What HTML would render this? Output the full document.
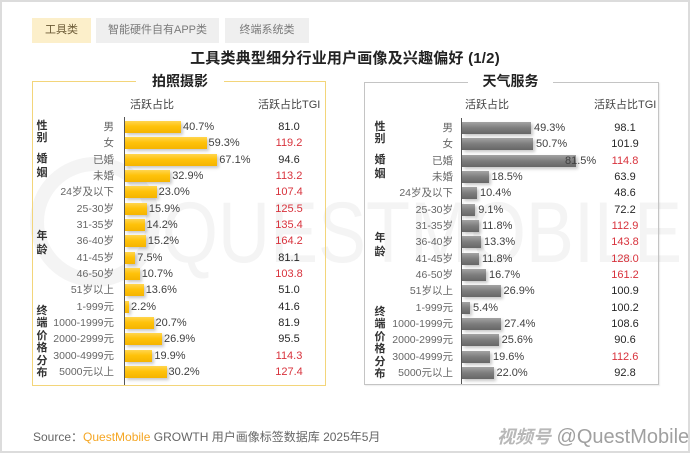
<!DOCTYPE html>
<html><head><meta charset="utf-8">
<style>
*{margin:0;padding:0;box-sizing:border-box}
html,body{width:690px;height:453px;background:#fff;overflow:hidden}
body{position:relative;font-family:"Liberation Sans","Noto Sans CJK SC",sans-serif;color:#333}
.frame{position:absolute;left:0;top:0;width:690px;height:453px;border:2px solid #dcdcdc;border-right-width:2px}
.tab{position:absolute;top:18px;height:25px;line-height:25px;font-size:11px;text-align:center;color:#7a7a7a}
.title{position:absolute;left:0;width:690px;top:47px;text-align:center;font-size:15px;font-weight:bold;color:#222;letter-spacing:0.2px}
.panel{position:absolute;border:1px solid #f3d57a}
.ptitle{position:absolute;top:72px;height:18px;line-height:18px;font-size:14px;font-weight:bold;color:#222;background:#fff;text-align:center}
.hd{position:absolute;top:96px;font-size:11px;color:#444;white-space:nowrap}
.axis{position:absolute;width:1px;background:#555}
.grp{position:absolute;font-size:11px;font-weight:bold;color:#333;width:14px;text-align:center;line-height:12.4px}
.rows{position:absolute;left:0;top:0;width:345px;height:453px}
.r{position:absolute;left:0;width:345px;height:16px;line-height:16px}
.c{position:absolute;font-size:10.5px;color:#666;white-space:nowrap;text-align:right}
.bw{position:absolute;top:0;height:16px;display:flex;align-items:center;white-space:nowrap}
.bw i{display:block;height:12px}
.L .bw i{background:linear-gradient(to bottom,#ffd54f 0%,#ffc20a 45%,#f5b400 100%);box-shadow:2px 2px 3px rgba(0,0,0,0.22)}
.R .bw i{background:linear-gradient(to bottom,#a3a3a3 0%,#7d7d7d 50%,#666 100%);box-shadow:2px 2px 3px rgba(0,0,0,0.22)}
.bw b{font-weight:normal;font-size:11px;color:#404040;margin-left:2px}
.R .bw b{margin-left:3px}
.t{position:absolute;width:40px;text-align:center;font-size:11px;color:#262626}
.red{color:#d8323c}
.L .c{right:231px}
.L .bw{left:125px}
.L .t{left:269px}
.R{left:345px}
.R .c{right:237px}
.R .bw{left:117px}
.R .t{left:260px}
.foot{position:absolute;left:33px;top:428px;font-size:12px;color:#666;white-space:nowrap}
.foot span{color:#f5a623}
.wm{position:absolute;left:497px;top:423px;font-size:20px;color:#a0a0a0;white-space:nowrap;text-shadow:0 0 1px #fff}
.wm em{font-style:italic;font-weight:bold;font-size:18px;color:#b8b8b8}
</style></head><body>
<svg style="position:absolute;left:0;top:0" width="690" height="453">
<circle cx="95" cy="222" r="58" fill="none" stroke="#f4f4f4" stroke-width="14"/>
<text x="162" y="262" font-family="Liberation Sans, sans-serif" font-size="86" fill="#f4f4f4" textLength="520" lengthAdjust="spacingAndGlyphs">QUESTMOBILE</text>
</svg>
<div class="frame"></div>

<div class="tab" style="left:32px;width:59px;background:#fcefca;color:#6b5a35">工具类</div>
<div class="tab" style="left:96px;width:123px;background:#efefef">智能硬件自有APP类</div>
<div class="tab" style="left:225px;width:84px;background:#efefef">终端系统类</div>

<div class="title">工具类典型细分行业用户画像及兴趣偏好 (1/2)</div>

<div class="panel" style="left:32px;top:81px;width:294px;height:305px;border-color:#f3d57a"></div>
<div class="ptitle" style="left:136px;width:88px">拍照摄影</div>
<div class="panel" style="left:364px;top:82px;width:295px;height:303px;border-color:#c4c4c4;box-shadow:1px 1px 1px rgba(0,0,0,0.08)"></div>
<div class="ptitle" style="left:468px;width:85px">天气服务</div>

<div class="hd" style="left:130px">活跃占比</div>
<div class="hd" style="left:258px">活跃占比TGI</div>
<div class="hd" style="left:465px">活跃占比</div>
<div class="hd" style="left:594px">活跃占比TGI</div>

<div class="axis" style="left:124px;top:117px;height:268px"></div>
<div class="axis" style="left:461px;top:118px;height:266px"></div>

<div class="grp" style="left:35px;top:120px">性<br>别</div>
<div class="grp" style="left:35px;top:152px;line-height:14px">婚<br>姻</div>
<div class="grp" style="left:35px;top:229px;line-height:14px">年<br>龄</div>
<div class="grp" style="left:35px;top:305px">终<br>端<br>价<br>格<br>分<br>布</div>

<div class="grp" style="left:373px;top:121px">性<br>别</div>
<div class="grp" style="left:373px;top:153px;line-height:14px">婚<br>姻</div>
<div class="grp" style="left:373px;top:231px;line-height:14px">年<br>龄</div>
<div class="grp" style="left:373px;top:306px">终<br>端<br>价<br>格<br>分<br>布</div>

<div class="rows L">
<div class="r" style="top:119px"><span class="c">男</span><div class="bw"><i style="width:56px"></i><b>40.7%</b></div><span class="t">81.0</span></div>
<div class="r" style="top:135.3px"><span class="c">女</span><div class="bw"><i style="width:81.5px"></i><b>59.3%</b></div><span class="t red">119.2</span></div>
<div class="r" style="top:151.7px"><span class="c">已婚</span><div class="bw"><i style="width:92.3px"></i><b>67.1%</b></div><span class="t">94.6</span></div>
<div class="r" style="top:168px"><span class="c">未婚</span><div class="bw"><i style="width:45.2px"></i><b>32.9%</b></div><span class="t red">113.2</span></div>
<div class="r" style="top:184.3px"><span class="c">24岁及以下</span><div class="bw"><i style="width:31.6px"></i><b>23.0%</b></div><span class="t red">107.4</span></div>
<div class="r" style="top:200.7px"><span class="c">25-30岁</span><div class="bw"><i style="width:21.9px"></i><b>15.9%</b></div><span class="t red">125.5</span></div>
<div class="r" style="top:217px"><span class="c">31-35岁</span><div class="bw"><i style="width:19.5px"></i><b>14.2%</b></div><span class="t red">135.4</span></div>
<div class="r" style="top:233.3px"><span class="c">36-40岁</span><div class="bw"><i style="width:20.9px"></i><b>15.2%</b></div><span class="t red">164.2</span></div>
<div class="r" style="top:249.6px"><span class="c">41-45岁</span><div class="bw"><i style="width:10.3px"></i><b>7.5%</b></div><span class="t">81.1</span></div>
<div class="r" style="top:266px"><span class="c">46-50岁</span><div class="bw"><i style="width:14.7px"></i><b>10.7%</b></div><span class="t red">103.8</span></div>
<div class="r" style="top:282.3px"><span class="c">51岁以上</span><div class="bw"><i style="width:18.7px"></i><b>13.6%</b></div><span class="t">51.0</span></div>
<div class="r" style="top:298.6px"><span class="c">1-999元</span><div class="bw"><i style="width:4px"></i><b>2.2%</b></div><span class="t">41.6</span></div>
<div class="r" style="top:315px"><span class="c">1000-1999元</span><div class="bw"><i style="width:28.5px"></i><b>20.7%</b></div><span class="t">81.9</span></div>
<div class="r" style="top:331.3px"><span class="c">2000-2999元</span><div class="bw"><i style="width:37px"></i><b>26.9%</b></div><span class="t">95.5</span></div>
<div class="r" style="top:347.6px"><span class="c">3000-4999元</span><div class="bw"><i style="width:27.4px"></i><b>19.9%</b></div><span class="t red">114.3</span></div>
<div class="r" style="top:364px"><span class="c">5000元以上</span><div class="bw"><i style="width:41.5px"></i><b>30.2%</b></div><span class="t red">127.4</span></div>
</div>

<div class="rows R">
<div class="r" style="top:120px"><span class="c">男</span><div class="bw"><i style="width:69px"></i><b>49.3%</b></div><span class="t">98.1</span></div>
<div class="r" style="top:136.3px"><span class="c">女</span><div class="bw"><i style="width:71px"></i><b>50.7%</b></div><span class="t">101.9</span></div>
<div class="r" style="top:152.7px"><span class="c">已婚</span><div class="bw"><i style="width:114px"></i><b style="margin-left:-11px">81.5%</b></div><span class="t red">114.8</span></div>
<div class="r" style="top:169px"><span class="c">未婚</span><div class="bw"><i style="width:26.5px"></i><b>18.5%</b></div><span class="t">63.9</span></div>
<div class="r" style="top:185.3px"><span class="c">24岁及以下</span><div class="bw"><i style="width:15px"></i><b>10.4%</b></div><span class="t">48.6</span></div>
<div class="r" style="top:201.7px"><span class="c">25-30岁</span><div class="bw"><i style="width:13.2px"></i><b>9.1%</b></div><span class="t">72.2</span></div>
<div class="r" style="top:218px"><span class="c">31-35岁</span><div class="bw"><i style="width:17px"></i><b>11.8%</b></div><span class="t red">112.9</span></div>
<div class="r" style="top:234.3px"><span class="c">36-40岁</span><div class="bw"><i style="width:19px"></i><b>13.3%</b></div><span class="t red">143.8</span></div>
<div class="r" style="top:250.6px"><span class="c">41-45岁</span><div class="bw"><i style="width:17px"></i><b>11.8%</b></div><span class="t red">128.0</span></div>
<div class="r" style="top:267px"><span class="c">46-50岁</span><div class="bw"><i style="width:24px"></i><b>16.7%</b></div><span class="t red">161.2</span></div>
<div class="r" style="top:283.3px"><span class="c">51岁以上</span><div class="bw"><i style="width:38.5px"></i><b>26.9%</b></div><span class="t">100.9</span></div>
<div class="r" style="top:299.6px"><span class="c">1-999元</span><div class="bw"><i style="width:8px"></i><b>5.4%</b></div><span class="t">100.2</span></div>
<div class="r" style="top:316px"><span class="c">1000-1999元</span><div class="bw"><i style="width:39.2px"></i><b>27.4%</b></div><span class="t">108.6</span></div>
<div class="r" style="top:332.3px"><span class="c">2000-2999元</span><div class="bw"><i style="width:36.6px"></i><b>25.6%</b></div><span class="t">90.6</span></div>
<div class="r" style="top:348.6px"><span class="c">3000-4999元</span><div class="bw"><i style="width:28px"></i><b>19.6%</b></div><span class="t red">112.6</span></div>
<div class="r" style="top:365px"><span class="c">5000元以上</span><div class="bw"><i style="width:31.5px"></i><b>22.0%</b></div><span class="t">92.8</span></div>
</div>

<div class="foot">Source：<span>QuestMobile</span> GROWTH 用户画像标签数据库 2025年5月</div>
<div class="wm"><em>视频号</em> @QuestMobile</div>
</body></html>
